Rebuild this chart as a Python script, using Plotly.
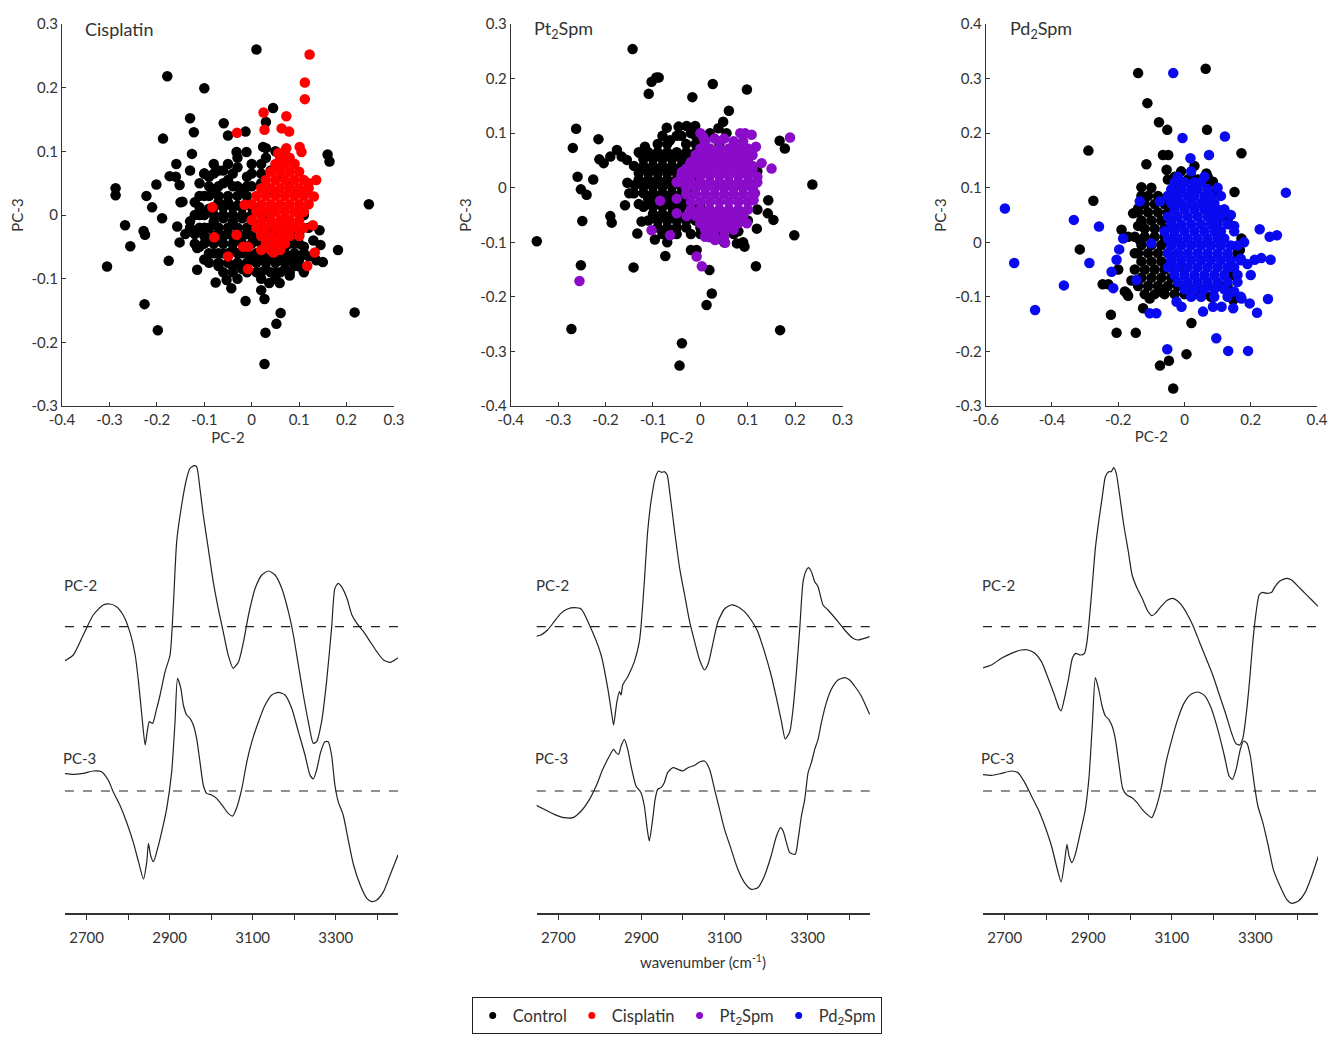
import plotly.graph_objects as go

# ---------------- scatter data (PC-2, PC-3 scores) ----------------
cis_control = [
    (0.01, 0.26), (-0.178, 0.218), (-0.10, 0.199), (0.045, 0.168), (-0.13, 0.152), (-0.059, 0.144),
    (0.03, 0.146), (-0.122, 0.13), (-0.05, 0.125), (-0.013, 0.131), (-0.187, 0.12), (-0.126, 0.096),
    (-0.032, 0.099), (-0.011, 0.099), (0.024, 0.107), (0.16, 0.095), (0.164, 0.084), (-0.287, 0.042),
    (-0.287, 0.031), (-0.267, -0.016), (-0.256, -0.049), (-0.305, -0.081), (-0.222, 0.03), (-0.201, 0.048),
    (-0.21, 0.012), (-0.189, -0.005), (-0.228, -0.025), (-0.225, -0.031), (-0.175, -0.072), (-0.159, 0.08),
    (-0.173, 0.061), (-0.152, 0.047), (-0.146, 0.021), (-0.157, -0.018), (-0.152, -0.043), (-0.115, -0.052),
    (-0.115, -0.086), (-0.076, -0.106), (-0.053, -0.102), (-0.043, -0.115), (-0.013, -0.135), (0.02, -0.118),
    (0.027, -0.132), (0.061, -0.154), (0.052, -0.171), (0.029, -0.185), (0.027, -0.234), (-0.226, -0.14),
    (-0.198, -0.181), (0.217, -0.153), (0.247, 0.017), (0.182, -0.055), (0.15, -0.074), (0.143, -0.024),
    (0.145, -0.047), (0.136, -0.071), (0.101, -0.081), (0.059, -0.107), (0.037, -0.107),
    (-0.11, 0.05), (-0.09, 0.06), (-0.07, 0.07), (-0.05, 0.08), (-0.03, 0.075), (-0.01, 0.06), (0.02, 0.08),
    (0.04, 0.07), (0.06, 0.06), (0.08, 0.05), (-0.12, 0.02), (-0.10, 0.03), (-0.08, 0.04), (-0.06, 0.05),
    (-0.04, 0.045), (-0.02, 0.04), (0.0, 0.045), (0.02, 0.05), (0.04, 0.04), (0.1, 0.04), (-0.13, -0.01),
    (-0.11, 0.0), (-0.09, 0.01), (-0.07, 0.02), (-0.05, 0.02), (-0.03, 0.015), (-0.01, 0.02), (0.01, 0.01),
    (0.03, 0.0), (0.11, 0.0), (-0.12, -0.03), (-0.10, -0.02), (-0.08, -0.01), (-0.06, -0.005), (-0.04, -0.01),
    (-0.02, -0.005), (0.0, -0.01), (0.02, -0.02), (0.04, -0.03), (0.06, -0.03), (0.08, -0.02), (0.10, -0.03),
    (0.12, -0.02), (-0.11, -0.05), (-0.09, -0.04), (-0.07, -0.035), (-0.05, -0.03), (-0.03, -0.035),
    (-0.01, -0.03), (0.01, -0.04), (0.03, -0.05), (0.05, -0.045), (0.07, -0.05), (0.09, -0.045), (0.11, -0.05),
    (0.13, -0.04), (-0.10, -0.07), (-0.08, -0.06), (-0.06, -0.06), (-0.04, -0.055), (-0.02, -0.06),
    (0.0, -0.065), (0.02, -0.07), (0.04, -0.065), (0.06, -0.07), (0.08, -0.065), (0.10, -0.07), (0.12, -0.065),
    (-0.07, -0.08), (-0.04, -0.08), (-0.02, -0.085), (0.01, -0.09), (0.03, -0.085), (0.05, -0.09), (0.07, -0.085),
    (0.09, -0.08), (0.11, -0.09), (-0.03, -0.10), (0.02, -0.10), (0.05, -0.10), (0.08, -0.095), (-0.15, 0.02),
    (-0.14, -0.03), (-0.16, 0.06), (-0.13, 0.07), (-0.08, 0.08), (-0.06, 0.07), (0.0, 0.08), (0.03, 0.09),
    (0.05, 0.1), (0.03, 0.105), (-0.1, 0.065), (-0.05, 0.055), (-0.03, 0.09), (0.06, 0.08),
]
# dense cores, read row by row: (PC-3, [PC-2 values])
cis_control_rows = [
    (0.065, [-0.10, -0.08, -0.04, 0.0, 0.02]),
    (0.045, [-0.09, -0.07, -0.03, -0.01]),
    (0.03, [-0.11, -0.09, -0.07, -0.05, -0.03, -0.01]),
    (0.012, [-0.11, -0.08, -0.06, -0.04, -0.02, 0.0]),
    (0.0, [-0.12, -0.10, -0.08, -0.06, -0.04, -0.02, 0.0, 0.02]),
    (-0.02, [-0.13, -0.11, -0.09, -0.07, -0.05, -0.03, -0.01, 0.01, 0.03, 0.05, 0.07, 0.09]),
    (-0.033, [-0.10, -0.08, -0.06, -0.04, -0.02, 0.0, 0.02, 0.04, 0.06, 0.08, 0.10]),
    (-0.045, [-0.12, -0.10, -0.08, -0.06, -0.04, -0.02, 0.0, 0.02, 0.04, 0.06, 0.08, 0.10]),
    (-0.06, [-0.09, -0.07, -0.05, -0.03, -0.01, 0.01, 0.03, 0.05, 0.07, 0.09, 0.11]),
    (-0.075, [-0.09, -0.07, -0.05, -0.03, -0.01, 0.01, 0.03, 0.05, 0.07, 0.09]),
    (-0.09, [-0.06, -0.04, -0.01, 0.02, 0.04, 0.06, 0.08]),
]
cisplatin = [
    (0.122, 0.252), (0.112, 0.208), (0.112, 0.182), (0.025, 0.161), (0.073, 0.155), (0.027, 0.134),
    (0.063, 0.136), (0.079, 0.131), (-0.031, 0.129), (0.101, 0.107), (0.105, 0.099), (0.056, 0.097),
    (0.073, 0.105), (0.136, 0.055), (0.117, 0.035), (0.131, 0.029), (0.129, -0.016), (0.133, -0.059),
    (0.117, -0.08), (0.073, -0.029), (0.046, -0.059), (-0.008, -0.085), (-0.008, -0.05), (-0.018, -0.05),
    (-0.05, -0.065), (-0.032, -0.031), (-0.079, -0.035), (-0.083, 0.012), (-0.015, 0.016),
    (0.06, 0.09), (0.08, 0.09), (0.09, 0.08), (0.07, 0.1), (0.12, 0.05), (0.045, 0.01), (0.065, -0.01),
]
cisplatin_rows = [
    (0.08, [0.05, 0.07, 0.09]),
    (0.068, [0.04, 0.06, 0.08, 0.10]),
    (0.055, [0.03, 0.05, 0.07, 0.09, 0.11]),
    (0.042, [0.02, 0.04, 0.06, 0.08, 0.10, 0.12]),
    (0.03, [0.01, 0.03, 0.05, 0.07, 0.09, 0.11]),
    (0.017, [0.0, 0.02, 0.04, 0.06, 0.08, 0.10, 0.12]),
    (0.005, [0.01, 0.03, 0.05, 0.07, 0.09, 0.11]),
    (-0.008, [0.0, 0.02, 0.04, 0.06, 0.08, 0.10]),
    (-0.02, [0.01, 0.03, 0.05, 0.07, 0.09, 0.11]),
    (-0.033, [0.02, 0.04, 0.06, 0.08, 0.10]),
    (-0.045, [0.03, 0.05, 0.07]),
    (-0.055, [0.02, 0.04, 0.06]),
]
pt_control = [
    (-0.143, 0.254), (-0.103, 0.194), (-0.093, 0.202), (-0.088, 0.202), (-0.109, 0.172), (0.026, 0.19),
    (-0.017, 0.166), (0.098, 0.18), (0.06, 0.141), (-0.262, 0.108), (-0.269, 0.073), (-0.259, 0.02),
    (-0.252, -0.003), (-0.24, -0.013), (-0.249, -0.061), (-0.345, -0.098), (-0.252, -0.142), (-0.272, -0.259),
    (-0.141, -0.146), (-0.039, -0.285), (-0.044, -0.326), (0.013, -0.215), (0.024, -0.194), (0.019, -0.151),
    (-0.02, -0.114), (-0.008, -0.114), (-0.074, -0.125), (0.117, -0.144), (0.168, -0.261), (0.198, -0.087),
    (0.236, 0.006), (0.167, 0.086), (0.178, 0.072), (0.143, -0.023), (0.142, -0.047), (0.154, -0.059),
    (-0.215, 0.089), (-0.226, 0.015), (-0.213, 0.052), (-0.204, 0.045), (-0.19, 0.057), (-0.176, 0.069),
    (-0.166, 0.057), (-0.155, 0.051), (-0.159, -0.032), (-0.19, -0.052), (-0.187, -0.064), (-0.154, 0.009),
    (-0.138, 0.005), (-0.133, -0.084), (-0.124, -0.062), (-0.117, 0.075), (-0.127, 0.063), (-0.096, -0.095),
    (0.119, -0.075), (0.093, -0.108), (0.077, -0.102), (-0.071, 0.11), (-0.064, 0.087), (-0.046, 0.112),
    (-0.029, 0.113), (-0.011, 0.113), (0.038, 0.109), (0.048, 0.121), (0.055, 0.1),
    (-0.02, 0.1), (0.02, 0.1), (0.04, 0.08), (0.06, 0.07), (0.1, 0.05), (0.12, 0.03), (0.12, -0.04),
    (0.09, -0.1), (0.05, -0.1), (-0.07, -0.1), (-0.13, -0.03), (-0.15, -0.01), (0.1, -0.06), (0.08, -0.08),
]
pt_control_rows = [
    (0.095, [-0.08, -0.05, -0.04, -0.01]),
    (0.08, [-0.09, -0.07, -0.03, -0.01]),
    (0.065, [-0.13, -0.11, -0.09, -0.07, -0.05, -0.03, -0.01, 0.01]),
    (0.052, [-0.12, -0.10, -0.08, -0.06, -0.04, -0.02]),
    (0.04, [-0.14, -0.12, -0.10, -0.08, -0.06, -0.04, -0.02, 0.0]),
    (0.027, [-0.13, -0.11, -0.09, -0.07, -0.05, -0.03, -0.01]),
    (0.015, [-0.13, -0.11, -0.09, -0.07, -0.05, -0.03, -0.01]),
    (0.002, [-0.12, -0.10, -0.08, -0.06, -0.04, -0.02]),
    (-0.01, [-0.14, -0.12, -0.10, -0.08, -0.06, -0.04, -0.02]),
    (-0.022, [-0.11, -0.09, -0.07, -0.05, -0.03]),
    (-0.035, [-0.12, -0.10, -0.08, -0.06, -0.04, -0.02, 0.0]),
    (-0.048, [-0.10, -0.08, -0.06, -0.04, -0.02]),
    (-0.06, [-0.11, -0.09, -0.07, -0.05, -0.03, -0.01, 0.01, 0.03, 0.05, 0.07, 0.09]),
    (-0.073, [-0.09, -0.07, -0.05, -0.03, 0.0, 0.02, 0.04, 0.06]),
    (-0.085, [-0.08, -0.05, -0.02, 0.0, 0.02, 0.04, 0.07]),
]
pt2spm = [
    (-0.255, -0.171), (0.0, 0.1), (0.006, 0.093), (0.084, 0.1), (0.094, 0.1), (0.108, 0.097), (0.189, 0.092),
    (0.15, 0.035), (0.129, 0.045), (0.117, 0.075), (0.115, 0.008), (0.115, -0.01), (0.112, -0.023),
    (0.098, -0.065), (0.084, -0.059), (0.07, -0.059), (0.052, -0.101), (0.041, -0.059), (0.02, -0.091),
    (0.031, -0.096), (0.003, -0.144), (-0.008, -0.126), (-0.064, -0.087), (-0.103, -0.078), (-0.085, -0.024),
    (-0.05, -0.047), (-0.029, -0.052), (-0.039, 0.029), (-0.032, 0.014), (0.03, 0.09), (0.05, 0.09),
    (0.11, 0.04), (0.12, 0.02), (-0.05, 0.01), (-0.05, -0.02),
]
pt2spm_rows = [
    (0.085, [0.01, 0.04, 0.07, 0.09]),
    (0.072, [0.0, 0.02, 0.04, 0.06, 0.08, 0.10]),
    (0.06, [-0.01, 0.01, 0.03, 0.05, 0.07, 0.09, 0.11]),
    (0.047, [-0.02, 0.0, 0.02, 0.04, 0.06, 0.08, 0.10]),
    (0.035, [-0.03, -0.01, 0.01, 0.03, 0.05, 0.07, 0.09, 0.11]),
    (0.022, [-0.04, -0.02, 0.0, 0.02, 0.04, 0.06, 0.08, 0.10]),
    (0.01, [-0.04, -0.02, 0.0, 0.02, 0.04, 0.06, 0.08, 0.10, 0.12]),
    (-0.001, [-0.03, -0.01, 0.01, 0.03, 0.05, 0.07, 0.09, 0.11]),
    (-0.012, [-0.03, -0.01, 0.01, 0.03, 0.05, 0.07, 0.09, 0.11]),
    (-0.026, [-0.02, 0.0, 0.02, 0.04, 0.06, 0.08, 0.10]),
    (-0.04, [-0.02, 0.0, 0.02, 0.04, 0.06, 0.08, 0.10]),
    (-0.052, [-0.01, 0.01, 0.03, 0.05, 0.07, 0.09]),
    (-0.065, [0.0, 0.02, 0.04, 0.06, 0.08]),
    (-0.077, [0.01, 0.03, 0.05, 0.07]),
    (-0.09, [0.01, 0.03, 0.05]),
]
pd_control = [
    (-0.14, 0.31), (0.064, 0.318), (-0.112, 0.255), (-0.077, 0.22), (-0.052, 0.206), (0.068, 0.206),
    (-0.29, 0.168), (0.172, 0.163), (-0.065, 0.16), (-0.049, 0.16), (-0.115, 0.143), (-0.054, 0.133),
    (-0.029, 0.12), (-0.275, 0.076), (-0.13, 0.101), (-0.316, -0.013), (-0.247, -0.077), (-0.23, -0.077),
    (-0.222, -0.133), (-0.205, -0.166), (-0.147, -0.166), (-0.074, -0.226), (-0.047, -0.217), (-0.034, -0.268),
    (0.006, -0.205), (0.021, -0.148), (0.151, 0.092), (0.066, 0.126), (0.086, 0.111), (0.172, 0.007),
    (0.167, -0.014), (0.147, -0.106), (-0.175, -0.093), (-0.17, -0.098), (-0.125, -0.121), (-0.105, -0.103),
    (-0.064, -0.093), (-0.155, 0.053), (-0.14, 0.062), (-0.19, 0.023), (-0.135, 0.004), (-0.13, 0.035),
    (0.02, 0.12), (0.05, 0.11), (0.11, -0.08), (0.14, -0.06), (0.16, -0.02), (0.13, 0.04), (0.09, 0.09),
    (0.07, 0.12), (0.03, 0.14), (-0.01, 0.13), (-0.15, -0.02), (-0.16, -0.07), (-0.18, -0.09), (-0.2, -0.05),
    (-0.14, 0.03), (-0.17, 0.01), (0.08, -0.1), (0.05, -0.09), (0.02, -0.09),
]
pd_control_rows = [
    (0.115, [-0.05, -0.02, 0.01, 0.04, 0.07]),
    (0.1, [-0.10, -0.02]),
    (0.085, [-0.13, -0.11, -0.08, -0.05, -0.04]),
    (0.07, [-0.12, -0.09, -0.06, -0.03]),
    (0.055, [-0.14, -0.11, -0.08, -0.05]),
    (0.04, [-0.13, -0.10, -0.07, -0.04]),
    (0.025, [-0.12, -0.09, -0.06, -0.03]),
    (0.01, [-0.15, -0.12, -0.09, -0.06, -0.03]),
    (-0.005, [-0.13, -0.10, -0.07, -0.04]),
    (-0.02, [-0.14, -0.11, -0.08, -0.05, -0.02]),
    (-0.035, [-0.13, -0.10, -0.07, -0.04]),
    (-0.05, [-0.15, -0.12, -0.09, -0.06, -0.03, 0.0]),
    (-0.065, [-0.13, -0.10, -0.07, -0.04]),
    (-0.08, [-0.14, -0.11, -0.08, -0.05, -0.02, 0.01, 0.04, 0.07, 0.10, 0.13]),
    (-0.095, [-0.12, -0.09, -0.06, -0.03, 0.0, 0.03, 0.06]),
]
pd2spm = [
    (-0.542, 0.062), (-0.514, -0.038), (-0.451, -0.124), (-0.364, -0.079), (-0.334, 0.041), (-0.287, -0.038),
    (-0.258, 0.029), (-0.034, 0.31), (-0.006, 0.191), (0.122, 0.194), (0.074, 0.16), (0.018, 0.154),
    (0.306, 0.091), (0.227, 0.024), (0.257, 0.01), (0.279, 0.013), (0.26, -0.032), (0.232, -0.029),
    (0.212, -0.032), (0.252, -0.104), (0.219, -0.129), (0.197, -0.112), (0.192, -0.199), (0.132, -0.199),
    (0.096, -0.176), (-0.052, -0.196), (0.056, -0.127), (0.086, -0.118), (0.112, -0.118), (0.147, -0.121),
    (0.172, -0.103), (-0.105, -0.13), (-0.085, -0.13), (-0.024, -0.109), (-0.009, -0.118), (-0.22, -0.054),
    (-0.205, -0.032), (-0.185, 0.007), (-0.215, -0.084), (-0.145, -0.069), (-0.135, 0.075), (-0.074, 0.075),
    (-0.1, -0.002), (-0.197, -0.013), (-0.02, 0.12), (0.02, 0.13), (0.06, 0.12), (0.1, 0.1), (0.18, 0.0),
    (0.2, -0.06), (0.12, 0.06), (0.14, 0.05), (0.15, 0.03), (0.17, -0.03), (0.19, -0.04), (0.15, -0.09),
    (0.17, -0.1), (0.16, -0.06),
]
pd2spm_rows = [
    (0.11, [-0.03, 0.0, 0.03, 0.05]),
    (0.097, [-0.04, -0.01, 0.02, 0.04, 0.07]),
    (0.085, [-0.05, -0.02, 0.01, 0.03, 0.06, 0.08, 0.11]),
    (0.072, [-0.04, -0.01, 0.02, 0.05, 0.07, 0.09]),
    (0.06, [-0.03, 0.0, 0.03, 0.06, 0.08, 0.10, 0.12]),
    (0.047, [-0.05, -0.02, 0.01, 0.04, 0.07, 0.09, 0.11]),
    (0.033, [-0.04, -0.01, 0.02, 0.05, 0.08, 0.10, 0.13]),
    (0.02, [-0.06, -0.03, 0.0, 0.03, 0.06, 0.09, 0.11, 0.15]),
    (0.007, [-0.05, -0.02, 0.01, 0.04, 0.07, 0.10, 0.12]),
    (-0.006, [-0.04, -0.01, 0.02, 0.05, 0.08, 0.11, 0.14, 0.16]),
    (-0.02, [-0.05, -0.02, 0.01, 0.04, 0.07, 0.10, 0.13]),
    (-0.033, [-0.04, -0.01, 0.02, 0.05, 0.08, 0.11, 0.14, 0.17]),
    (-0.046, [-0.05, -0.02, 0.01, 0.04, 0.07, 0.10, 0.13, 0.15]),
    (-0.06, [-0.03, 0.0, 0.03, 0.06, 0.09, 0.12]),
    (-0.073, [-0.02, 0.01, 0.04, 0.07, 0.10, 0.13, 0.16]),
    (-0.086, [0.0, 0.03, 0.06, 0.09, 0.12]),
    (-0.1, [0.02, 0.05, 0.09, 0.13]),
]

# ---------------- loadings (wavenumber, loading) ----------------
cis_pc2 = [
    (2644, -0.105), (2668, -0.085), (2692, -0.025), (2716, 0.035), (2740, 0.065), (2756, 0.068), (2772, 0.060),
    (2788, 0.035), (2804, -0.015), (2817, -0.085), (2825, -0.165), (2833, -0.265), (2841, -0.355), (2846, -0.315),
    (2851, -0.285), (2859, -0.290), (2867, -0.255), (2877, -0.205), (2889, -0.135), (2901, -0.085), (2909, 0.065),
    (2917, 0.255), (2929, 0.365), (2941, 0.445), (2949, 0.475), (2959, 0.483), (2965, 0.480), (2973, 0.415),
    (2981, 0.335), (2993, 0.235), (3005, 0.135), (3017, 0.055), (3029, -0.015), (3041, -0.085), (3053, -0.125),
    (3066, -0.105), (3078, -0.045), (3090, 0.035), (3106, 0.115), (3122, 0.155), (3138, 0.167), (3154, 0.155),
    (3170, 0.115), (3186, 0.045), (3198, -0.025), (3210, -0.115), (3222, -0.205), (3234, -0.285), (3246, -0.350),
    (3254, -0.345), (3266, -0.285), (3278, -0.165), (3290, -0.005), (3298, 0.115), (3306, 0.130), (3314, 0.120),
    (3327, 0.085), (3339, 0.035), (3351, 0.010), (3367, -0.015), (3383, -0.045), (3399, -0.075), (3415, -0.100),
    (3431, -0.107), (3450, -0.093),
]
cis_pc3 = [
    (2644, 0.053), (2668, 0.050), (2692, 0.053), (2716, 0.060), (2736, 0.058), (2752, 0.033), (2764, -0.002),
    (2780, -0.042), (2796, -0.092), (2812, -0.152), (2825, -0.212), (2837, -0.264), (2845, -0.212), (2849, -0.157),
    (2854, -0.192), (2861, -0.212), (2869, -0.182), (2881, -0.122), (2893, -0.052), (2905, 0.058), (2913, 0.208),
    (2919, 0.338), (2927, 0.308), (2933, 0.258), (2941, 0.228), (2949, 0.218), (2957, 0.198), (2965, 0.158),
    (2973, 0.088), (2981, 0.018), (2989, -0.007), (3001, -0.012), (3013, -0.022), (3029, -0.047), (3041, -0.067),
    (3052, -0.075), (3061, -0.052), (3074, 0.008), (3086, 0.088), (3098, 0.148), (3114, 0.208), (3130, 0.258),
    (3146, 0.288), (3162, 0.296), (3178, 0.288), (3194, 0.248), (3210, 0.178), (3226, 0.108), (3238, 0.048),
    (3246, 0.036), (3254, 0.063), (3264, 0.118), (3274, 0.148), (3282, 0.148), (3290, 0.108), (3298, 0.018),
    (3306, -0.032), (3318, -0.072), (3331, -0.152), (3343, -0.222), (3359, -0.282), (3375, -0.322),
    (3387, -0.332), (3399, -0.327), (3415, -0.302), (3431, -0.252), (3450, -0.192),
]
pt_pc2 = [
    (2642, -0.030), (2658, -0.025), (2674, -0.010), (2690, 0.015), (2706, 0.040), (2722, 0.053), (2739, 0.057),
    (2755, 0.053), (2775, 0.005), (2803, -0.085), (2819, -0.185), (2829, -0.265), (2833, -0.295), (2841, -0.225),
    (2847, -0.195), (2851, -0.205), (2855, -0.175), (2867, -0.150), (2883, -0.105), (2895, -0.045), (2899, 0.000),
    (2907, 0.135), (2915, 0.285), (2923, 0.375), (2933, 0.445), (2941, 0.467), (2949, 0.463), (2955, 0.465),
    (2962, 0.455), (2967, 0.415), (2980, 0.285), (2992, 0.175), (3004, 0.095), (3016, 0.015), (3028, -0.045),
    (3040, -0.100), (3052, -0.130), (3061, -0.110), (3072, -0.050), (3084, 0.015), (3100, 0.053), (3116, 0.065),
    (3132, 0.060), (3148, 0.045), (3164, 0.020), (3180, -0.015), (3196, -0.075), (3212, -0.145), (3225, -0.215),
    (3237, -0.285), (3246, -0.337), (3257, -0.315), (3265, -0.245), (3273, -0.135), (3281, -0.005), (3289, 0.135),
    (3297, 0.170), (3302, 0.177), (3309, 0.165), (3317, 0.135), (3325, 0.120), (3337, 0.065), (3349, 0.050),
    (3373, 0.015), (3389, -0.010), (3409, -0.035), (3421, -0.040), (3449, -0.030),
]
pt_pc3 = [
    (2642, -0.040), (2666, -0.055), (2690, -0.070), (2714, -0.080), (2735, -0.080), (2755, -0.060), (2775, -0.025),
    (2791, 0.015), (2807, 0.065), (2823, 0.105), (2833, 0.125), (2839, 0.115), (2845, 0.110), (2851, 0.135),
    (2859, 0.155), (2867, 0.125), (2875, 0.075), (2887, 0.015), (2899, -0.005), (2907, -0.045), (2914, -0.115),
    (2919, -0.150), (2926, -0.095), (2933, -0.025), (2939, 0.005), (2947, 0.010), (2955, 0.025), (2963, 0.055),
    (2976, 0.070), (2988, 0.065), (3000, 0.060), (3012, 0.070), (3028, 0.077), (3040, 0.087), (3052, 0.090),
    (3064, 0.065), (3076, 0.005), (3088, -0.055), (3100, -0.115), (3116, -0.175), (3132, -0.235), (3148, -0.275),
    (3164, -0.295), (3180, -0.290), (3196, -0.255), (3212, -0.195), (3225, -0.135), (3235, -0.110), (3241, -0.120),
    (3249, -0.155), (3257, -0.185), (3270, -0.190), (3277, -0.145), (3285, -0.075), (3293, -0.025), (3301, 0.055),
    (3309, 0.085), (3317, 0.125), (3325, 0.155), (3333, 0.205), (3345, 0.265), (3357, 0.305), (3373, 0.333),
    (3389, 0.340), (3401, 0.333), (3413, 0.315), (3429, 0.285), (3449, 0.230),
]
pd_pc2 = [
    (2644, -0.125), (2668, -0.115), (2692, -0.095), (2716, -0.080), (2740, -0.070), (2756, -0.070), (2772, -0.080),
    (2788, -0.105), (2804, -0.155), (2819, -0.205), (2830, -0.245), (2835, -0.253), (2843, -0.215), (2853, -0.155),
    (2862, -0.095), (2870, -0.080), (2881, -0.085), (2891, -0.080), (2897, -0.045), (2902, 0.015), (2909, 0.115),
    (2917, 0.235), (2925, 0.315), (2933, 0.385), (2941, 0.450), (2949, 0.465), (2955, 0.465), (2961, 0.477),
    (2967, 0.460), (2975, 0.395), (2985, 0.305), (2996, 0.225), (3005, 0.155), (3017, 0.115), (3029, 0.085),
    (3041, 0.050), (3052, 0.033), (3061, 0.040), (3074, 0.060), (3090, 0.080), (3102, 0.085), (3114, 0.077),
    (3126, 0.060), (3138, 0.035), (3150, 0.005), (3166, -0.045), (3182, -0.095), (3198, -0.145), (3214, -0.205),
    (3230, -0.265), (3242, -0.315), (3253, -0.350), (3262, -0.355), (3270, -0.335), (3278, -0.265), (3286, -0.165),
    (3294, -0.045), (3302, 0.045), (3309, 0.095), (3317, 0.103), (3327, 0.100), (3339, 0.103), (3347, 0.120),
    (3359, 0.137), (3375, 0.145), (3387, 0.140), (3403, 0.120), (3419, 0.100), (3435, 0.080), (3451, 0.060),
]
pd_pc3 = [
    (2644, 0.050), (2668, 0.047), (2692, 0.053), (2716, 0.060), (2732, 0.055), (2748, 0.025), (2764, -0.015),
    (2780, -0.055), (2796, -0.105), (2812, -0.165), (2824, -0.225), (2835, -0.273), (2843, -0.215), (2849, -0.160),
    (2854, -0.195), (2861, -0.215), (2869, -0.190), (2881, -0.125), (2893, -0.055), (2902, 0.045), (2910, 0.205),
    (2917, 0.340), (2925, 0.305), (2933, 0.255), (2941, 0.225), (2949, 0.215), (2957, 0.195), (2965, 0.155),
    (2973, 0.085), (2983, 0.005), (2993, -0.013), (3005, -0.020), (3017, -0.035), (3029, -0.055), (3041, -0.070),
    (3052, -0.080), (3061, -0.055), (3074, 0.005), (3086, 0.085), (3098, 0.145), (3114, 0.215), (3130, 0.265),
    (3146, 0.290), (3162, 0.297), (3178, 0.287), (3194, 0.250), (3210, 0.185), (3226, 0.105), (3237, 0.045),
    (3245, 0.035), (3254, 0.065), (3264, 0.125), (3272, 0.150), (3280, 0.143), (3288, 0.105), (3298, 0.015),
    (3306, -0.045), (3318, -0.095), (3331, -0.165), (3343, -0.235), (3359, -0.285), (3375, -0.325),
    (3387, -0.337), (3403, -0.330), (3419, -0.305), (3435, -0.255), (3451, -0.195),
]

groups = ["Control", "Cisplatin", "Pt<sub>2</sub>Spm", "Pd<sub>2</sub>Spm"]
colors = ["#000000", "#FF0000", "#8A0CC8", "#0A0AF0"]
panel_titles = ["Cisplatin", "Pt<sub>2</sub>Spm", "Pd<sub>2</sub>Spm"]

sc_xticks = [[-0.4, -0.3, -0.2, -0.1, 0, 0.1, 0.2, 0.3],
             [-0.4, -0.3, -0.2, -0.1, 0, 0.1, 0.2, 0.3],
             [-0.6, -0.4, -0.2, 0, 0.2, 0.4]]
sc_yticks = [[-0.3, -0.2, -0.1, 0, 0.1, 0.2, 0.3],
             [-0.4, -0.3, -0.2, -0.1, 0, 0.1, 0.2, 0.3],
             [-0.3, -0.2, -0.1, 0, 0.1, 0.2, 0.3, 0.4]]
wn_ticks = [2700, 2800, 2900, 3000, 3100, 3200, 3300, 3400]
wn_labels = ["2700", "", "2900", "", "3100", "", "3300", ""]


def fmt(v):
    return "0" if abs(v) < 1e-9 else f"{v:.1f}"


def expand(points, rows):
    xs = [p[0] for p in points]
    ys = [p[1] for p in points]
    for yv, xrow in rows:
        for xv in xrow:
            xs.append(xv)
            ys.append(yv)
    return xs, ys


FONT = "Lato, 'Open Sans', sans-serif"
TXT = "#333333"

fig = go.Figure()

scatter_sets = [((cis_control, cis_control_rows), (cisplatin, cisplatin_rows), 1),
                ((pt_control, pt_control_rows), (pt2spm, pt2spm_rows), 2),
                ((pd_control, pd_control_rows), (pd2spm, pd2spm_rows), 3)]
for i, (ctrl, trt, ci) in enumerate(scatter_sets):
    ax = "" if i == 0 else str(i + 1)
    for (pts, rows), col in ((ctrl, colors[0]), (trt, colors[ci])):
        xs, ys = expand(pts, rows)
        fig.add_trace(go.Scatter(x=xs, y=ys, mode="markers", xaxis="x" + ax, yaxis="y" + ax,
                                 marker=dict(color=col, size=10.5, line=dict(width=0)),
                                 showlegend=False, hoverinfo="skip", cliponaxis=False))

PC2_OFFSET = 0.493
load_sets = [(cis_pc2, cis_pc3), (pt_pc2, pt_pc3), (pd_pc2, pd_pc3)]
for i, (l2, l3) in enumerate(load_sets):
    ax = str(i + 4)
    x2, y2 = zip(*l2)
    x3, y3 = zip(*l3)
    fig.add_trace(go.Scatter(x=x2, y=[v + PC2_OFFSET for v in y2], mode="lines", xaxis="x" + ax, yaxis="y" + ax,
                             line=dict(color="#222222", width=1.2, shape="spline", smoothing=0.6),
                             showlegend=False, hoverinfo="skip"))
    fig.add_trace(go.Scatter(x=x3, y=y3, mode="lines", xaxis="x" + ax, yaxis="y" + ax,
                             line=dict(color="#222222", width=1.2, shape="spline", smoothing=0.6),
                             showlegend=False, hoverinfo="skip"))

# legend-only entries
for g, c in zip(groups, colors):
    fig.add_trace(go.Scatter(x=[None], y=[None], mode="markers", name=g,
                             marker=dict(color=c, size=7), showlegend=True))

W, H = 1331, 1044
sc_dom_x = [(62, 394), (510.7, 842.7), (985.7, 1317)]
sc_dom_y = (24, 406)
ld_dom_x = [(65, 398), (536.7, 870), (983, 1318)]
ld_dom_y = (460, 913)

layout = dict(width=W, height=H, margin=dict(l=0, r=0, t=0, b=0, autoexpand=False),
              plot_bgcolor="white", paper_bgcolor="white",
              font=dict(family=FONT, color=TXT, size=15))

for i in range(3):
    ax = "" if i == 0 else str(i + 1)
    xt, yt = sc_xticks[i], sc_yticks[i]
    layout["xaxis" + ax] = dict(domain=[sc_dom_x[i][0] / W, sc_dom_x[i][1] / W], anchor="y" + ax,
                                range=[xt[0], xt[-1]], tickvals=xt, ticktext=[fmt(v) for v in xt],
                                ticks="inside", ticklen=4, tickcolor="#333", showline=True, linecolor="#333",
                                linewidth=1, showgrid=False, zeroline=False, automargin=False,
                                title=dict(text="PC-2", standoff=4, font=dict(size=15)),
                                tickfont=dict(size=15))
    layout["yaxis" + ax] = dict(domain=[1 - sc_dom_y[1] / H, 1 - sc_dom_y[0] / H], anchor="x" + ax,
                                range=[yt[0], yt[-1]], tickvals=yt, ticktext=[fmt(v) for v in yt],
                                ticks="inside", ticklen=4, tickcolor="#333", showline=True, linecolor="#333",
                                linewidth=1, showgrid=False, zeroline=False, automargin=False,
                                title=dict(text="PC-3", standoff=4, font=dict(size=15)),
                                tickfont=dict(size=15))

for i in range(3):
    ax = str(i + 4)
    layout["xaxis" + ax] = dict(domain=[ld_dom_x[i][0] / W, ld_dom_x[i][1] / W], anchor="y" + ax,
                                range=[2648, 3450], tickvals=wn_ticks, ticktext=wn_labels,
                                ticks="outside", ticklen=5, tickcolor="#333", showline=True, linecolor="#333",
                                linewidth=1.5, showgrid=False, zeroline=False, tickfont=dict(size=15),
                                ticklabelstandoff=5, automargin=False)
    layout["yaxis" + ax] = dict(domain=[1 - ld_dom_y[1] / H, 1 - ld_dom_y[0] / H], anchor="x" + ax,
                                range=[-0.366, 0.993], visible=False, automargin=False)

shapes = []
annotations = []
for i in range(3):
    ax = str(i + 4)
    for yv in (PC2_OFFSET, 0):
        shapes.append(dict(type="line", xref="x" + ax + " domain", yref="y" + ax, x0=0, x1=1, y0=yv, y1=yv,
                           line=dict(color="#222222", width=1.2, dash="dash")))
    annotations.append(dict(text="PC-2", xref="x" + ax + " domain", yref="y" + ax, x=-0.008, y=0.618,
                            xanchor="left", yanchor="middle", showarrow=False, font=dict(size=15)))
    annotations.append(dict(text="PC-3", xref="x" + ax + " domain", yref="y" + ax, x=-0.012, y=0.099,
                            xanchor="left", yanchor="middle", showarrow=False, font=dict(size=15)))

annotations.append(dict(text="wavenumber (cm<sup>-1</sup>)", xref="paper", yref="paper", x=703 / W,
                        y=1 - 961 / H, xanchor="center", yanchor="middle", showarrow=False, font=dict(size=15)))

title_x = [83, 532, 1008]
for t, tx in zip(panel_titles, title_x):
    annotations.append(dict(text=t, xref="paper", yref="paper", x=tx / W, y=1 - 29 / H,
                            xanchor="left", yanchor="middle", showarrow=False, font=dict(size=18)))

layout["shapes"] = shapes
layout["annotations"] = annotations
layout["legend"] = dict(orientation="h", x=677 / W, xanchor="center", y=1 - 997 / H, yanchor="top",
                        bordercolor="#222222", borderwidth=1.2, bgcolor="white",
                        font=dict(size=16.5), itemwidth=30, tracegroupgap=0)

fig.update_layout(**layout)
fig.write_html("out.html")
